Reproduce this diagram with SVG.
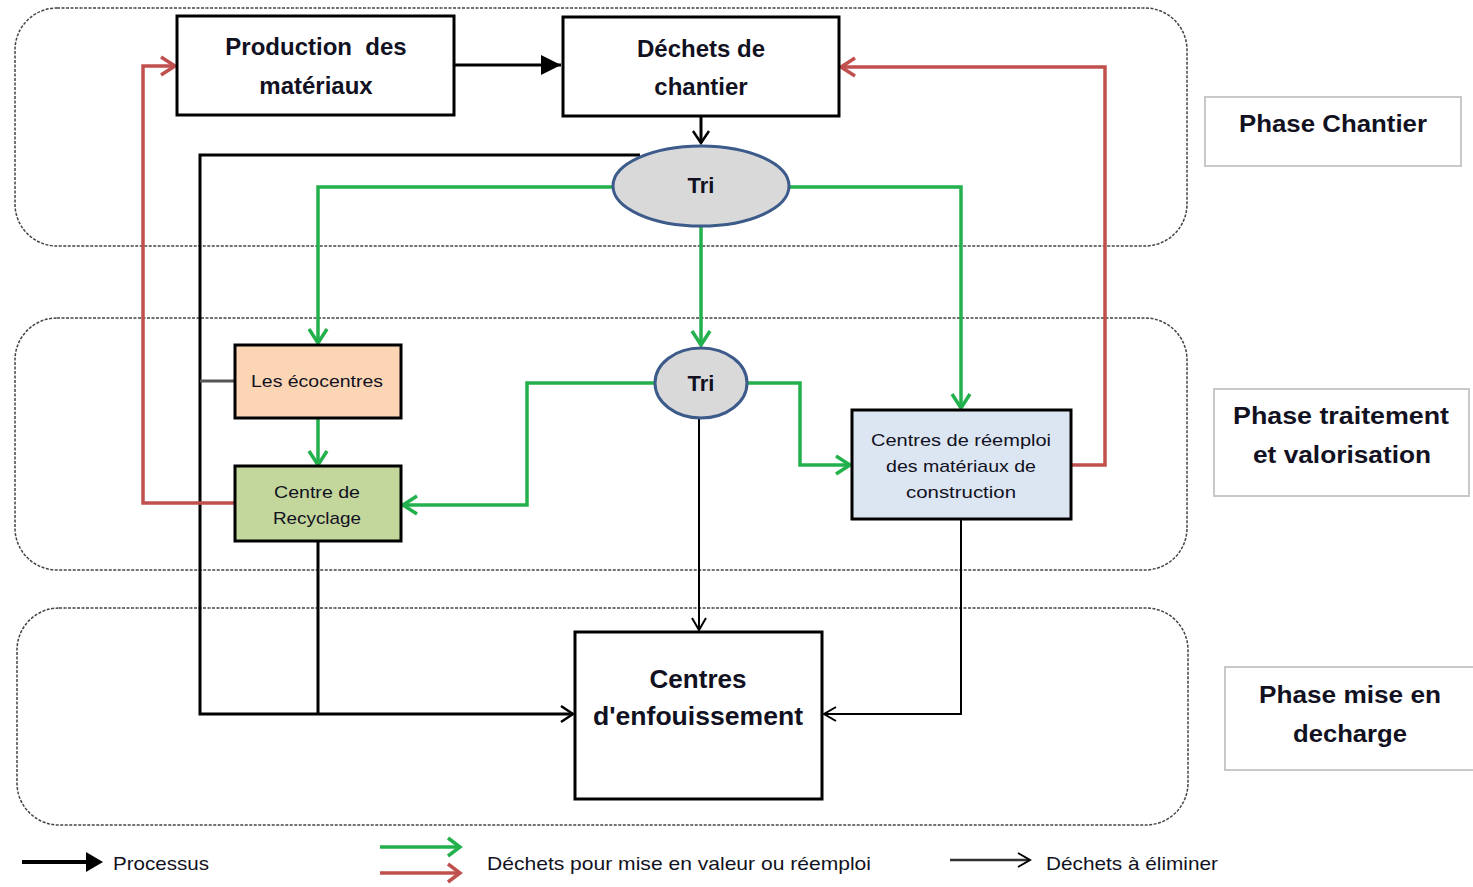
<svg xmlns="http://www.w3.org/2000/svg" width="1473" height="887" viewBox="0 0 1473 887">
<style>
.phase{fill:none;stroke:#444;stroke-width:1.5;stroke-dasharray:3 1.5}
.box{stroke:#000;stroke-width:3}
.lbl{fill:#fff;stroke:#c8c8c8;stroke-width:2}
.t{font-family:"Liberation Sans",Arial,sans-serif;fill:#111122;text-anchor:middle}
.b{font-weight:bold}
.g{fill:none;stroke:#22b14c;stroke-width:3.5}
.r{fill:none;stroke:#c0504d;stroke-width:3.5}
.k{fill:none;stroke:#000;stroke-width:3}
.k2{fill:none;stroke:#000;stroke-width:2}
.gr{fill:none;stroke:#555;stroke-width:3}
</style>
<defs>
<marker id="mk" markerUnits="userSpaceOnUse" markerWidth="24" markerHeight="24" viewBox="0 0 24 24" refX="22" refY="12" orient="auto"><path d="M2,2 L22,12 L2,22 Z" fill="#000"/></marker>
<marker id="mg" markerUnits="userSpaceOnUse" markerWidth="24" markerHeight="24" viewBox="0 0 24 24" refX="20" refY="12" orient="auto"><path d="M6,3 L20,12 L6,21" fill="none" stroke="#22b14c" stroke-width="3.5"/></marker>
<marker id="mr" markerUnits="userSpaceOnUse" markerWidth="24" markerHeight="24" viewBox="0 0 24 24" refX="20" refY="12" orient="auto"><path d="M6,3 L20,12 L6,21" fill="none" stroke="#c0504d" stroke-width="3.5"/></marker>
<marker id="mt" markerUnits="userSpaceOnUse" markerWidth="24" markerHeight="24" viewBox="0 0 24 24" refX="20" refY="12" orient="auto"><path d="M8,4 L20,12 L8,20" fill="none" stroke="#000" stroke-width="2.5"/></marker>
<marker id="mtt" markerUnits="userSpaceOnUse" markerWidth="24" markerHeight="24" viewBox="0 0 24 24" refX="20" refY="12" orient="auto"><path d="M8,5 L20,12 L8,19" fill="none" stroke="#000" stroke-width="2"/></marker>
</defs>
<rect width="1473" height="887" fill="#fff"/>
<g id="phases">
<rect class="phase" x="15" y="8" width="1172" height="238" rx="42"/>
<rect class="phase" x="15" y="318" width="1172" height="252" rx="42"/>
<rect class="phase" x="17" y="608" width="1171" height="217" rx="42"/>
</g>
<g id="connectors">
<path class="k" d="M454,65 H561" marker-end="url(#mk)"/>
<path class="k" d="M701,116 V143" marker-end="url(#mt)"/>
<path class="k" d="M640,155 H200 V714 H573" marker-end="url(#mt)"/>
<path class="gr" d="M200,381 H235"/>
<path class="k" d="M318,541 V714"/>
<path class="k2" d="M699,418 V630" marker-end="url(#mtt)"/>
<path class="k2" d="M961,519 V714 H824" marker-end="url(#mtt)"/>
<path class="g" d="M613,187 H318 V343" marker-end="url(#mg)"/>
<path class="g" d="M789,187 H961 V408" marker-end="url(#mg)"/>
<path class="g" d="M701,227 V345" marker-end="url(#mg)"/>
<path class="g" d="M318,418 V465" marker-end="url(#mg)"/>
<path class="g" d="M655,383 H527 V505 H403" marker-end="url(#mg)"/>
<path class="g" d="M747,383 H800 V465 H850" marker-end="url(#mg)"/>
<path class="r" d="M235,503 H143 V66 H175" marker-end="url(#mr)"/>
<path class="r" d="M1071,465 H1105 V67 H841" marker-end="url(#mr)"/>
</g>
<g id="production">
<rect class="box" x="177" y="16" width="277" height="99" fill="#fff"/>
<text class="t b" x="316" y="55" font-size="24" xml:space="preserve">Production  des</text>
<text class="t b" x="316" y="94" font-size="24">matériaux</text>
</g>
<g id="dechets">
<rect class="box" x="563" y="17" width="276" height="99" fill="#fff"/>
<text class="t b" x="701" y="57" font-size="24">Déchets de</text>
<text class="t b" x="701" y="95" font-size="24">chantier</text>
</g>
<g id="tri1">
<ellipse cx="701" cy="186" rx="88" ry="40" fill="#d9d9d9" stroke="#3c5a8a" stroke-width="3"/>
<text class="t b" x="701" y="193" font-size="22">Tri</text>
</g>
<g id="tri2">
<ellipse cx="701" cy="383" rx="46" ry="35" fill="#d9d9d9" stroke="#3c5a8a" stroke-width="3"/>
<text class="t b" x="701" y="391" font-size="22">Tri</text>
</g>
<g id="ecocentres">
<rect class="box" x="235" y="345" width="166" height="73" fill="#fcd5b5"/>
<text class="t" x="317" y="387" font-size="17" textLength="132" lengthAdjust="spacingAndGlyphs">Les écocentres</text>
</g>
<g id="recyclage">
<rect class="box" x="235" y="466" width="166" height="75" fill="#c3d69b"/>
<text class="t" x="317" y="498" font-size="17" textLength="86" lengthAdjust="spacingAndGlyphs">Centre de</text>
<text class="t" x="317" y="524" font-size="17" textLength="88" lengthAdjust="spacingAndGlyphs">Recyclage</text>
</g>
<g id="reemploi">
<rect class="box" x="852" y="410" width="219" height="109" fill="#dce6f2"/>
<text class="t" x="961" y="446" font-size="17" textLength="180" lengthAdjust="spacingAndGlyphs">Centres de réemploi</text>
<text class="t" x="961" y="472" font-size="17" textLength="150" lengthAdjust="spacingAndGlyphs">des matériaux de</text>
<text class="t" x="961" y="498" font-size="17" textLength="110" lengthAdjust="spacingAndGlyphs">construction</text>
</g>
<g id="enfouissement">
<rect class="box" x="575" y="632" width="247" height="167" fill="#fff"/>
<text class="t b" x="698" y="688" font-size="25" textLength="97" lengthAdjust="spacingAndGlyphs">Centres</text>
<text class="t b" x="698" y="725" font-size="25" textLength="210" lengthAdjust="spacingAndGlyphs">d'enfouissement</text>
</g>
<g id="label-chantier">
<rect class="lbl" x="1205" y="97" width="256" height="69"/>
<text class="t b" x="1333" y="132" font-size="24" textLength="188" lengthAdjust="spacingAndGlyphs">Phase Chantier</text>
</g>
<g id="label-traitement">
<rect class="lbl" x="1214" y="389" width="255" height="107"/>
<text class="t b" x="1341" y="424" font-size="24" textLength="216" lengthAdjust="spacingAndGlyphs">Phase traitement</text>
<text class="t b" x="1342" y="463" font-size="24" textLength="178" lengthAdjust="spacingAndGlyphs">et valorisation</text>
</g>
<g id="label-decharge">
<rect class="lbl" x="1225" y="667" width="252" height="103"/>
<text class="t b" x="1350" y="703" font-size="24" textLength="182" lengthAdjust="spacingAndGlyphs">Phase mise en</text>
<text class="t b" x="1350" y="742" font-size="24" textLength="114" lengthAdjust="spacingAndGlyphs">decharge</text>
</g>
<g id="legend">
<path d="M22,862 H88" stroke="#000" stroke-width="4" fill="none"/>
<path d="M86,852 L103,862 L86,872 Z" fill="#000"/>
<text class="t" x="113" y="870" font-size="19" style="text-anchor:start" textLength="96" lengthAdjust="spacingAndGlyphs">Processus</text>
<path d="M380,847 H458" class="g" stroke-width="4"/>
<path d="M448,838 L460,847 L448,856" class="g"/>
<path d="M380,873 H458" class="r" stroke-width="4"/>
<path d="M448,864 L460,873 L448,882" class="r"/>
<text class="t" x="487" y="870" font-size="19" style="text-anchor:start" textLength="384" lengthAdjust="spacingAndGlyphs">Déchets pour mise en valeur ou réemploi</text>
<path d="M950,860 H1028" stroke="#333" stroke-width="2.5" fill="none"/>
<path d="M1018,853 L1030,860 L1018,867" fill="none" stroke="#000" stroke-width="2"/>
<text class="t" x="1046" y="870" font-size="19" style="text-anchor:start" textLength="172" lengthAdjust="spacingAndGlyphs">Déchets à éliminer</text>
</g>
</svg>
